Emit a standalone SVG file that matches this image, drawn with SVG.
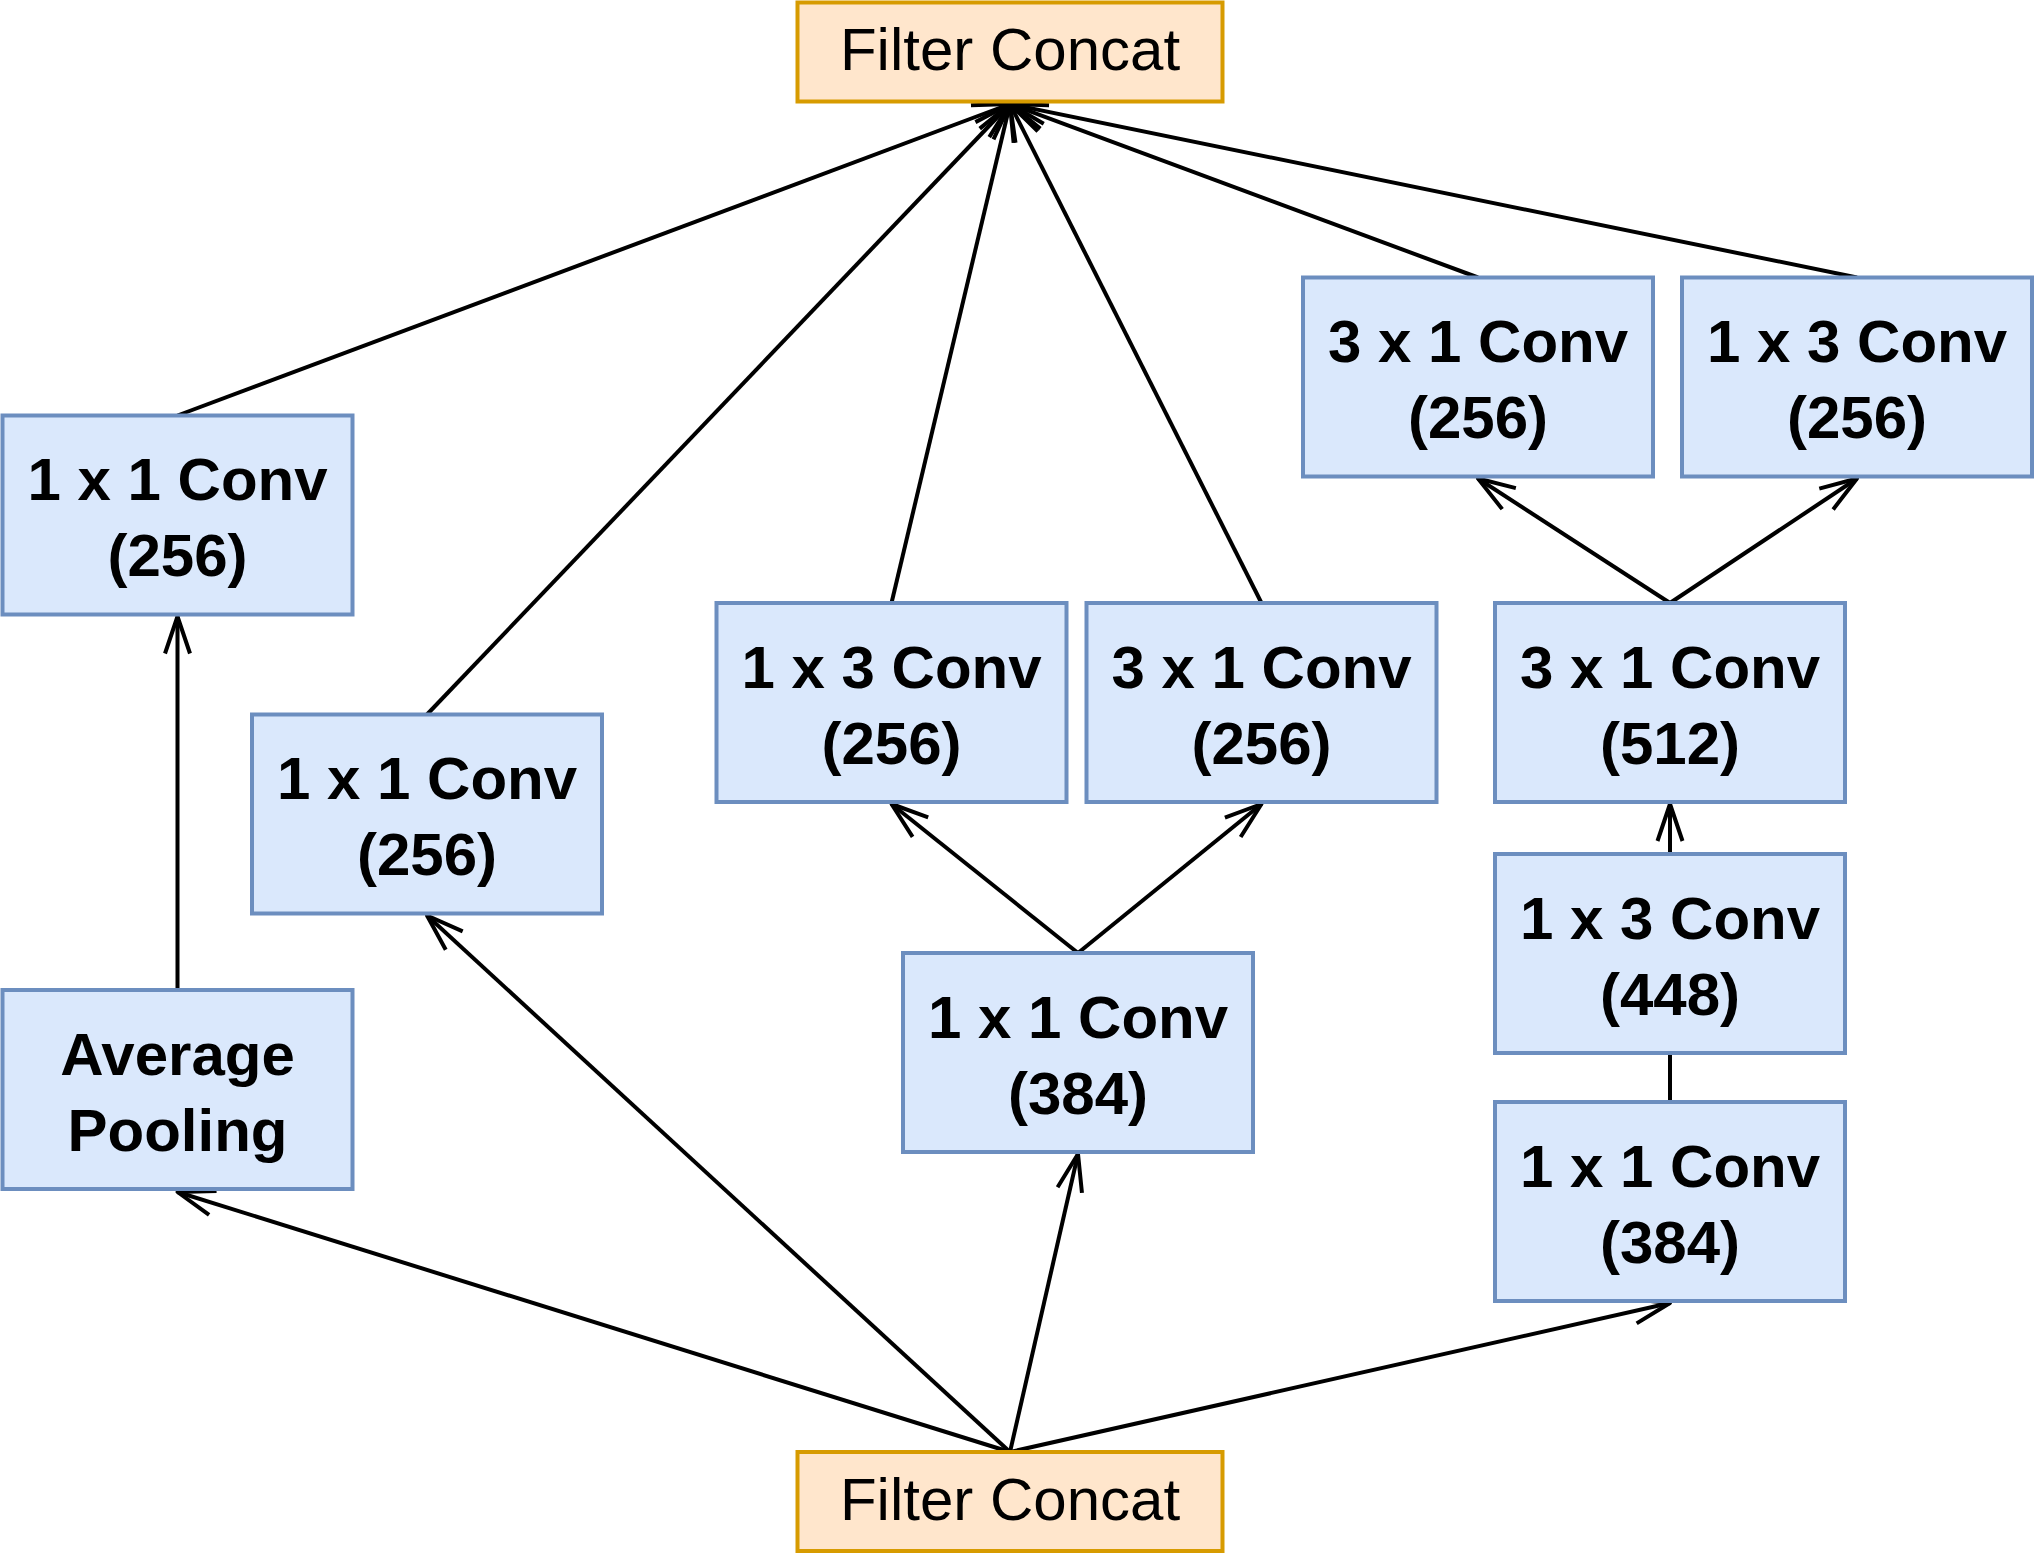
<svg xmlns="http://www.w3.org/2000/svg" width="2035" height="1555" viewBox="0 0 2035 1555">
<defs>
<style>
.conv rect{fill:#dae8fc;stroke:#6c8ebf;stroke-width:4}
.cat rect{fill:#ffe6cc;stroke:#d79b00;stroke-width:4}
.conv text{font-family:"Liberation Sans",Arial,sans-serif;font-weight:bold;font-size:60px;text-anchor:middle;fill:#000}
.cat text{font-family:"Liberation Sans",Arial,sans-serif;font-size:60px;text-anchor:middle;fill:#000}
#connectors line{stroke:#000;stroke-width:4;fill:none}
</style>
<marker id="open" markerUnits="userSpaceOnUse" markerWidth="60" markerHeight="60" refX="0" refY="0" orient="auto" overflow="visible">
<path d="M-37,-12.5 L0,0 L-37,12.5" fill="none" stroke="#000" stroke-width="4" stroke-linejoin="round"/>
</marker>
</defs>
<rect width="2035" height="1555" fill="#fff"/>
<g id="connectors">
<line x1="177.5" y1="415.5" x2="1010" y2="104" marker-end="url(#open)"/>
<line x1="427" y1="714.5" x2="1010" y2="104" marker-end="url(#open)"/>
<line x1="891.5" y1="603" x2="1010" y2="104" marker-end="url(#open)"/>
<line x1="1261.5" y1="603" x2="1010" y2="104" marker-end="url(#open)"/>
<line x1="1478" y1="277.5" x2="1010" y2="104" marker-end="url(#open)"/>
<line x1="1857" y1="277.5" x2="1010" y2="104" marker-end="url(#open)"/>
<line x1="1010" y1="1452" x2="177.5" y2="1192" marker-end="url(#open)"/>
<line x1="1010" y1="1452" x2="427" y2="915.5" marker-end="url(#open)"/>
<line x1="1010" y1="1452" x2="1078" y2="1154" marker-end="url(#open)"/>
<line x1="1010" y1="1452" x2="1670" y2="1303" marker-end="url(#open)"/>
<line x1="177.5" y1="990" x2="177.5" y2="616.5" marker-end="url(#open)"/>
<line x1="1078" y1="953" x2="891.5" y2="804" marker-end="url(#open)"/>
<line x1="1078" y1="953" x2="1261.5" y2="804" marker-end="url(#open)"/>
<line x1="1670" y1="1102" x2="1670" y2="1053"/>
<line x1="1670" y1="854" x2="1670" y2="804" marker-end="url(#open)"/>
<line x1="1670" y1="603" x2="1478" y2="478.5" marker-end="url(#open)"/>
<line x1="1670" y1="603" x2="1857" y2="478.5" marker-end="url(#open)"/>
</g>
<g id="concat_top" class="cat"><rect x="797.5" y="2.5" width="425" height="99"/><text x="1010" y="70">Filter Concat</text></g>
<g id="concat_bottom" class="cat"><rect x="797.5" y="1452" width="425" height="99"/><text x="1010" y="1520">Filter Concat</text></g>
<g id="conv_a" class="conv"><rect x="2.5" y="415.5" width="350" height="199"/><text x="177.5" y="500">1 x 1 Conv</text><text x="177.5" y="576">(256)</text></g>
<g id="avg_pool" class="conv"><rect x="2.5" y="990" width="350" height="199"/><text x="177.5" y="1075">Average</text><text x="177.5" y="1151">Pooling</text></g>
<g id="conv_b" class="conv"><rect x="252" y="714.5" width="350" height="199"/><text x="427" y="799">1 x 1 Conv</text><text x="427" y="875">(256)</text></g>
<g id="conv_c" class="conv"><rect x="716.5" y="603" width="350" height="199"/><text x="891.5" y="688">1 x 3 Conv</text><text x="891.5" y="764">(256)</text></g>
<g id="conv_d" class="conv"><rect x="1086.5" y="603" width="350" height="199"/><text x="1261.5" y="688">3 x 1 Conv</text><text x="1261.5" y="764">(256)</text></g>
<g id="conv_e" class="conv"><rect x="903" y="953" width="350" height="199"/><text x="1078" y="1038">1 x 1 Conv</text><text x="1078" y="1114">(384)</text></g>
<g id="conv_f" class="conv"><rect x="1303" y="277.5" width="350" height="199"/><text x="1478" y="362">3 x 1 Conv</text><text x="1478" y="438">(256)</text></g>
<g id="conv_g" class="conv"><rect x="1682" y="277.5" width="350" height="199"/><text x="1857" y="362">1 x 3 Conv</text><text x="1857" y="438">(256)</text></g>
<g id="conv_h" class="conv"><rect x="1495" y="603" width="350" height="199"/><text x="1670" y="688">3 x 1 Conv</text><text x="1670" y="764">(512)</text></g>
<g id="conv_i" class="conv"><rect x="1495" y="854" width="350" height="199"/><text x="1670" y="939">1 x 3 Conv</text><text x="1670" y="1015">(448)</text></g>
<g id="conv_j" class="conv"><rect x="1495" y="1102" width="350" height="199"/><text x="1670" y="1187">1 x 1 Conv</text><text x="1670" y="1263">(384)</text></g>
</svg>
